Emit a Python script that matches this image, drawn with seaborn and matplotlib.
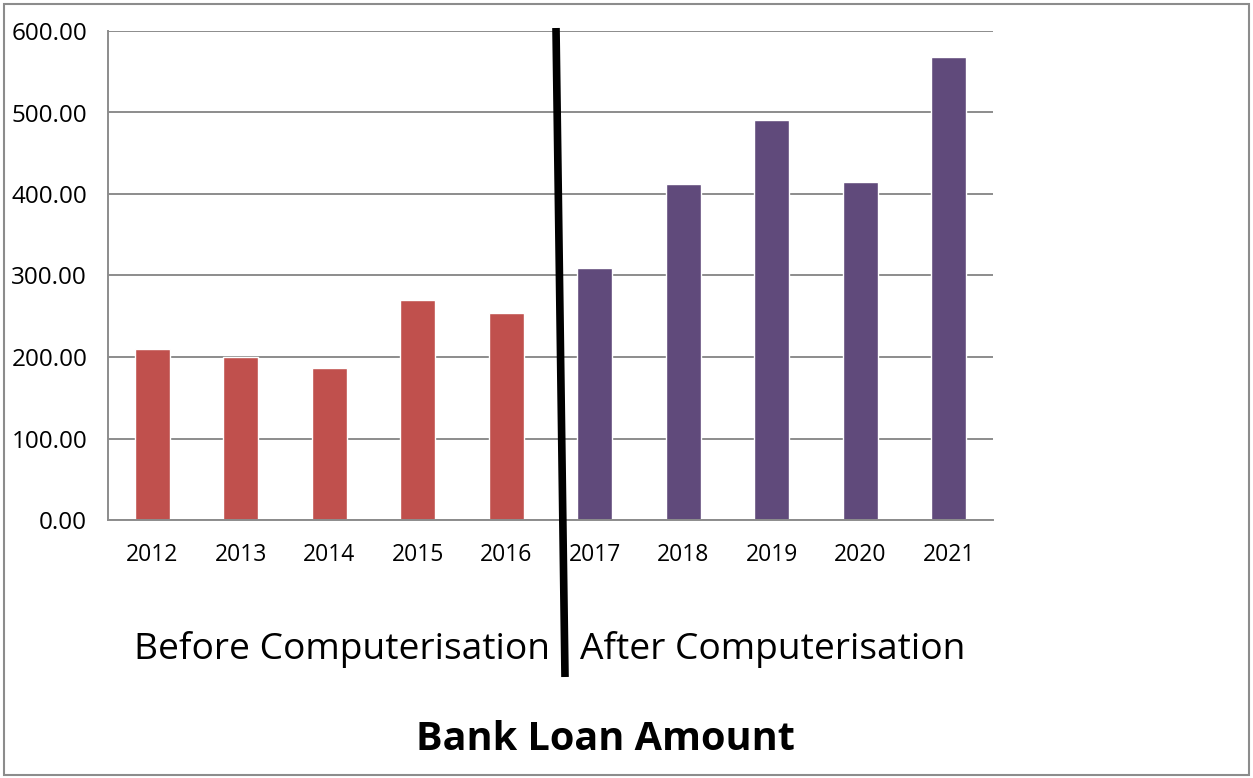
import matplotlib
matplotlib.use("Agg")
import matplotlib.pyplot as plt
import seaborn as sns
import pandas as pd
from matplotlib.lines import Line2D
from matplotlib.patches import Rectangle

years = ["2012", "2013", "2014", "2015", "2016", "2017", "2018", "2019", "2020", "2021"]
loans = [210, 200, 187, 270, 254, 309, 412, 491, 415, 568]
periods = ["Before"] * 5 + ["After"] * 5
period_colors = {"Before": "#C0504D", "After": "#604A7B"}
y_ticks = [0, 100, 200, 300, 400, 500, 600]

sns.set_theme(style="white")
plt.rcParams["font.family"] = ["Open Sans", "DejaVu Sans"]

df = pd.DataFrame({"year": years, "loan": loans, "period": periods})

W, H = 1253, 778
fig = plt.figure(figsize=(W / 100, H / 100), dpi=100)
ax = fig.add_axes([108 / W, 1 - 520 / H, (993 - 108) / W, (520 - 31) / H])

sns.barplot(data=df, x="year", y="loan", hue="period", palette=period_colors,
            width=0.4, dodge=False, legend=False, saturation=1, ax=ax)

ax.set_xlim(-0.5, 9.5)
ax.set_ylim(0, 600)
ax.set_yticks(y_ticks)
ax.set_yticklabels([f"{v:.2f}" for v in y_ticks])
ax.set_xlabel("")
ax.set_ylabel("")
ax.yaxis.grid(True, color="#8c8c8c", linewidth=1.4)
ax.set_axisbelow(True)
for s in ["top", "right"]:
    ax.spines[s].set_visible(False)
for s in ["left", "bottom"]:
    ax.spines[s].set_color("#8c8c8c")
    ax.spines[s].set_linewidth(1.4)
ax.tick_params(axis="y", length=0, pad=15, labelsize=17.5, colors="black")
ax.tick_params(axis="x", length=0, pad=16.5, labelsize=16.5, colors="black")

# divider line
fig.add_artist(Line2D([556 / W, 565 / W], [1 - 28 / H, 1 - 677 / H],
                      color="black", linewidth=5.5, transform=fig.transFigure,
                      solid_capstyle="butt"))

fig.text(342 / W, 1 - 649 / H, "Before Computerisation", ha="center", va="center",
         fontsize=26.7, color="black")
fig.text(773 / W, 1 - 649 / H, "After Computerisation", ha="center", va="center",
         fontsize=26.7, color="black")
fig.text(605 / W, 1 - 740 / H, "Bank Loan Amount", ha="center", va="center",
         fontsize=28.5, fontweight="bold", color="black")

fig.add_artist(Rectangle((4 / W, 3 / H), (1249 - 4) / W, (774 - 3) / H,
                         transform=fig.transFigure, fill=False,
                         edgecolor="#8c8c8c", linewidth=1.5))

fig.savefig("out.png", dpi=100, facecolor="white")
